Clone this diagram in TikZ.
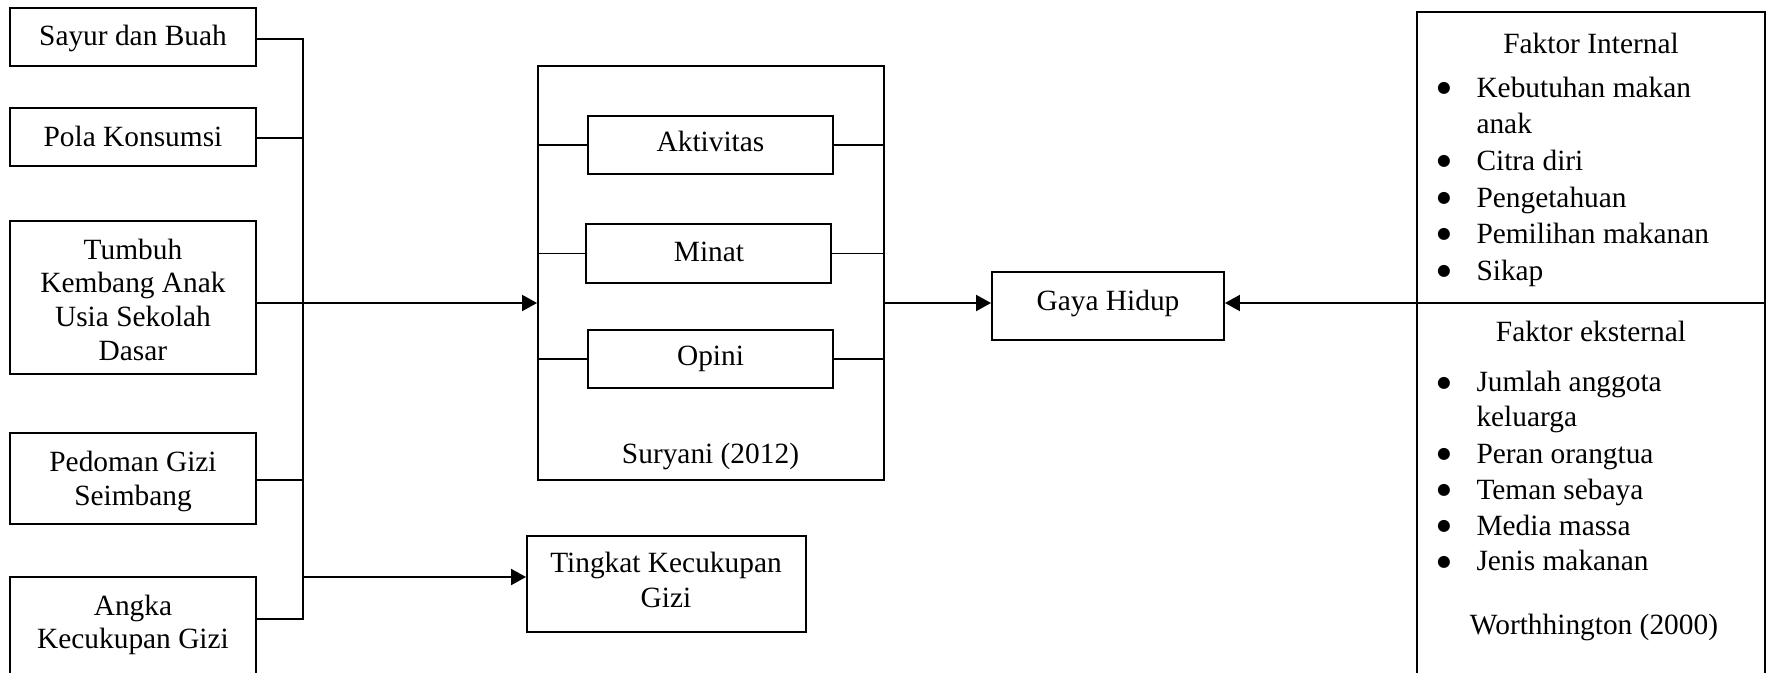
\documentclass[tikz,border=0pt]{standalone}
\usepackage{fontspec}
\setmainfont{Liberation Serif}
\newfontfamily\symfont{DejaVu Sans}
\usetikzlibrary{arrows.meta}
\begin{document}
\begin{tikzpicture}[x=0.4pt,y=-0.4pt,
  box/.style={draw, line width=0.75pt, rectangle, inner sep=0pt},
  txt/.style={inner sep=0pt, anchor=base, font=\fontsize{11.75}{14}\selectfont},
  ltxt/.style={txt, anchor=base west},
  bulletmark/.style={inner sep=0pt, anchor=base, font=\symfont\fontsize{6.3}{7}\selectfont},
  conn/.style={line width=0.7pt},
  arr/.style={line width=0.8pt, -{Triangle[length=6pt,width=6.4pt]}}]
\useasboundingbox (0,0) rectangle (1767,673);
\clip (0,0) rectangle (1767,673);

% left boxes
\node[box, minimum width=98.4pt, minimum height=23.2pt] (sayur) at (133,37) {};
\node[box, minimum width=98.4pt, minimum height=23.2pt] (pola) at (133,137) {};
\node[box, minimum width=98.4pt, minimum height=61.2pt] (tumbuh) at (133,297.5) {};
\node[box, minimum width=98.4pt, minimum height=36.4pt] (pedoman) at (133,478.5) {};
\node[box, minimum width=98.4pt, minimum height=50.4pt] (angka) at (133,640) {};

\node[txt] (tsayur) at (133,46) {Sayur dan Buah};
\node[txt] (tpola) at (133,146) {Pola Konsumsi};
\node[txt] (tt1) at (133,259) {Tumbuh};
\node[txt] (tt2) at (133,292.7) {Kembang Anak};
\node[txt] (tt3) at (133,326.3) {Usia Sekolah};
\node[txt] (tt4) at (133,360) {Dasar};
\node[txt] (tp1) at (133,471) {Pedoman Gizi};
\node[txt] (tp2) at (133,505) {Seimbang};
\node[txt] (ta1) at (133,615) {Angka};
\node[txt] (ta2) at (133,648.3) {Kecukupan Gizi};

% middle
\node[box, minimum width=138.4pt, minimum height=165.6pt] (suryani) at (711,273) {};
\node[box, minimum width=98pt, minimum height=23.2pt] (akt) at (710.5,145) {};
\node[box, minimum width=98pt, minimum height=23.6pt] (minat) at (708.5,253.5) {};
\node[box, minimum width=98pt, minimum height=23.2pt] (opini) at (710.5,359) {};
\node[txt] (takt) at (710.5,151.7) {Aktivitas};
\node[txt] (tminat) at (709,261.7) {Minat};
\node[txt] (topini) at (710.5,365) {Opini};
\node[txt] (tsur) at (710.5,463) {Suryani (2012)};

\node[box, minimum width=111.6pt, minimum height=38.4pt] (tingkat) at (666.5,584) {};
\node[txt] (tk1) at (666,572.7) {Tingkat Kecukupan};
\node[txt] (tk2) at (666,607.3) {Gizi};

\node[box, minimum width=92.8pt, minimum height=27.2pt] (gaya) at (1108,306) {};
\node[txt] (tgaya) at (1108,310) {Gaya Hidup};

% right
\node[box, minimum width=139.2pt, minimum height=275.2pt] (faktor) at (1591,356) {};
\node[txt] (fi) at (1591,53.3) {Faktor Internal};
\foreach \n/\yy in {i1/97, i3/170, i4/207, i5/243, i6/280, e1/391.7, e3/463.3, e4/499, e5/535, e6/570.7}
  \node[bulletmark] (b\n) at (1444,\yy-4.5) {●};
\node[ltxt] (li1) at (1476,97) {Kebutuhan makan};
\node[ltxt] (li2) at (1476,133) {anak};
\node[ltxt] (li3) at (1476,170) {Citra diri};
\node[ltxt] (li4) at (1476,207) {Pengetahuan};
\node[ltxt] (li5) at (1476,243) {Pemilihan makanan};
\node[ltxt] (li6) at (1476,280) {Sikap};
\node[txt] (fe) at (1591,341.7) {Faktor eksternal};
\node[ltxt] (le1) at (1476,391.7) {Jumlah anggota};
\node[ltxt] (le2) at (1476,426.7) {keluarga};
\node[ltxt] (le3) at (1476,463.3) {Peran orangtua};
\node[ltxt] (le4) at (1476,499) {Teman sebaya};
\node[ltxt] (le5) at (1476,535) {Media massa};
\node[ltxt] (le6) at (1476,570.7) {Jenis makanan};
\node[txt] (worth) at (1594,634) {Worthhington (2000)};

% connectors
\coordinate (bt) at (303,39);
\coordinate (bb) at (303,619);
\coordinate (j2) at (303,138);
\coordinate (j3) at (303,303);
\coordinate (j4) at (303,480);
\coordinate (j6) at (303,577);
\draw[conn] (sayur.east |- bt) -- (bt) -- (bb) -- (angka.east |- bb);
\draw[conn] (pola.east |- j2) -- (j2);
\draw[conn] (tumbuh.east |- j3) -- (j3);
\draw[conn] (pedoman.east |- j4) -- (j4);
\draw[arr] (j3) -- (suryani.west |- j3);
\draw[arr] (j6) -- (tingkat.west |- j6);
\draw[arr] (suryani.east |- j3) -- (gaya.west |- j3);
\draw[arr] (faktor.east |- j3) -- (gaya.east |- j3);

\draw[conn] (suryani.west |- akt.west) -- (akt.west);
\draw[conn] (akt.east) -- (suryani.east |- akt.east);
\draw[conn] (suryani.west |- minat.west) -- (minat.west);
\draw[conn] (minat.east) -- (suryani.east |- minat.east);
\draw[conn] (suryani.west |- opini.west) -- (opini.west);
\draw[conn] (opini.east) -- (suryani.east |- opini.east);
\end{tikzpicture}
\end{document}
